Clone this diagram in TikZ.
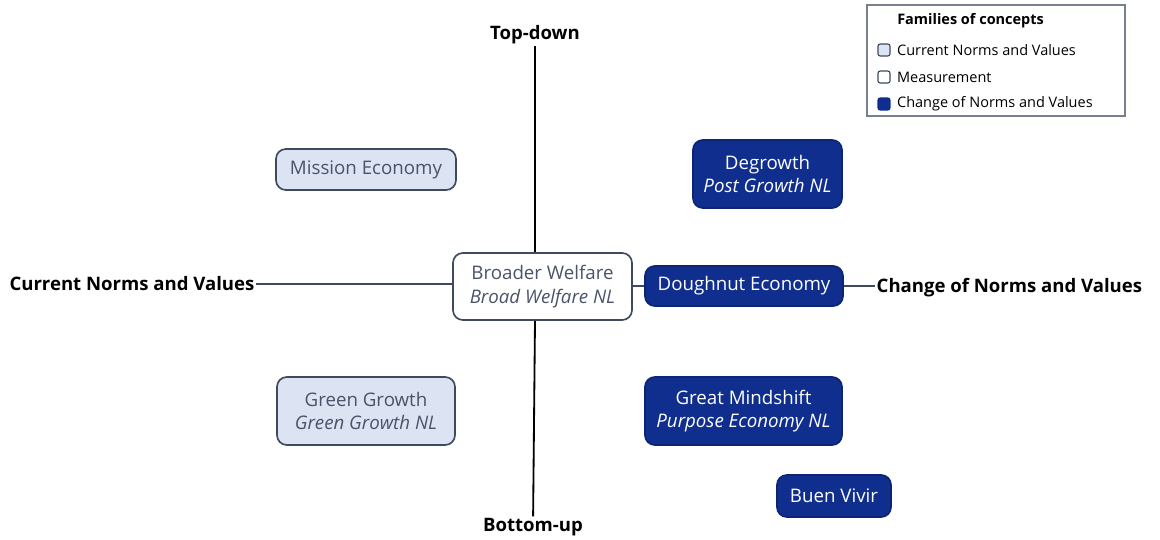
\documentclass[tikz,border=0pt]{standalone}
\usepackage{fontspec}
\setmainfont{Open Sans}
\definecolor{navy}{HTML}{0F2E8E}
\definecolor{paleblue}{HTML}{DCE3F3}
\definecolor{boxline}{HTML}{3E4A5E}
\definecolor{boxtext}{HTML}{4A5468}
\begin{document}
\begin{tikzpicture}[x=0.025cm, y=-0.025cm,
  concept/.style={rounded corners=7pt, line width=1.2pt, draw=boxline, align=center,
    inner sep=0pt, font=\fontsize{13.3}{16.5}\selectfont},
  current/.style={concept, fill=paleblue, text=boxtext},
  measure/.style={concept, fill=white, text=boxtext},
  change/.style={concept, fill=navy, draw=navy!80!black, text=white},
  axislabel/.style={font=\bfseries\fontsize{13.2}{16}\selectfont, inner sep=1pt},
  axis/.style={line width=1.3pt, black},
  key/.style={rounded corners=1.5pt, line width=0.8pt, draw=boxline, minimum size=8.5pt, inner sep=0pt},
  keytext/.style={anchor=west, font=\fontsize{10.3}{12}\selectfont, inner sep=0pt, xshift=4.5pt}]
\useasboundingbox (0,0) rectangle (1160,540);
% axis labels
\node[axislabel] (top) at (535,35) {Top-down};
\node[axislabel] (bottom) at (533,527) {Bottom-up};
\node[axislabel, anchor=east] (left) at (256,284) {Current Norms and Values};
\node[axislabel, anchor=west] (right) at (875,288) {Change of Norms and Values};
% concept boxes
\node[measure, minimum width=179*0.025cm, minimum height=67*0.025cm] (bw) at (542.5,286.5) {Broader Welfare\\\textit{Broad Welfare NL}};
\node[change, minimum width=198*0.025cm, minimum height=40*0.025cm] (dn) at (744,286) {Doughnut Economy};
\node[current, minimum width=180*0.025cm, minimum height=41*0.025cm] (me) at (366,169.5) {Mission Economy};
\node[change, minimum width=149*0.025cm, minimum height=68*0.025cm] (dg) at (767.5,174) {Degrowth\\\textit{Post Growth NL}};
\node[current, minimum width=178*0.025cm, minimum height=68*0.025cm] (gg) at (366,411) {Green Growth\\\textit{Green Growth NL}};
\node[change, minimum width=197*0.025cm, minimum height=68*0.025cm] (gm) at (743.5,411) {Great Mindshift\\\textit{Purpose Economy NL}};
\node[change, minimum width=114*0.025cm, minimum height=42*0.025cm] (bv) at (834,496) {Buen Vivir};
% axes
\draw[axis] (top) -- (bw.north -| top);
\draw[axis] (bw.south -| top) -- (bottom);
\draw[axis, line width=1pt, boxline] (left) -- (bw.west |- left);
\draw[axis, line width=1pt, boxline] (bw.east |- dn) -- (dn);
\draw[axis, line width=1pt, boxline] (dn) -- (dn.east -| right.west);
% legend
\node[draw=boxline!70, line width=0.8pt, minimum width=258*0.025cm, minimum height=111*0.025cm, inner sep=0pt] (legend) at (996,60.5) {};
\node[font=\bfseries\fontsize{10.3}{12}\selectfont, anchor=west, inner sep=0pt] (ltitle) at (897,21) {Families of concepts};
\node[key, fill=paleblue] (k1) at (884,50) {};
\node[key, fill=white] (k2) at (884,77) {};
\node[key, fill=navy, draw=navy] (k3) at (884,104) {};
\node[keytext] (l1) at (k1.east) {Current Norms and Values};
\node[keytext] (l2) at (k2.east) {Measurement};
\node[keytext] (l3) at (k3.east) {Change of Norms and Values};
\end{tikzpicture}
\end{document}
